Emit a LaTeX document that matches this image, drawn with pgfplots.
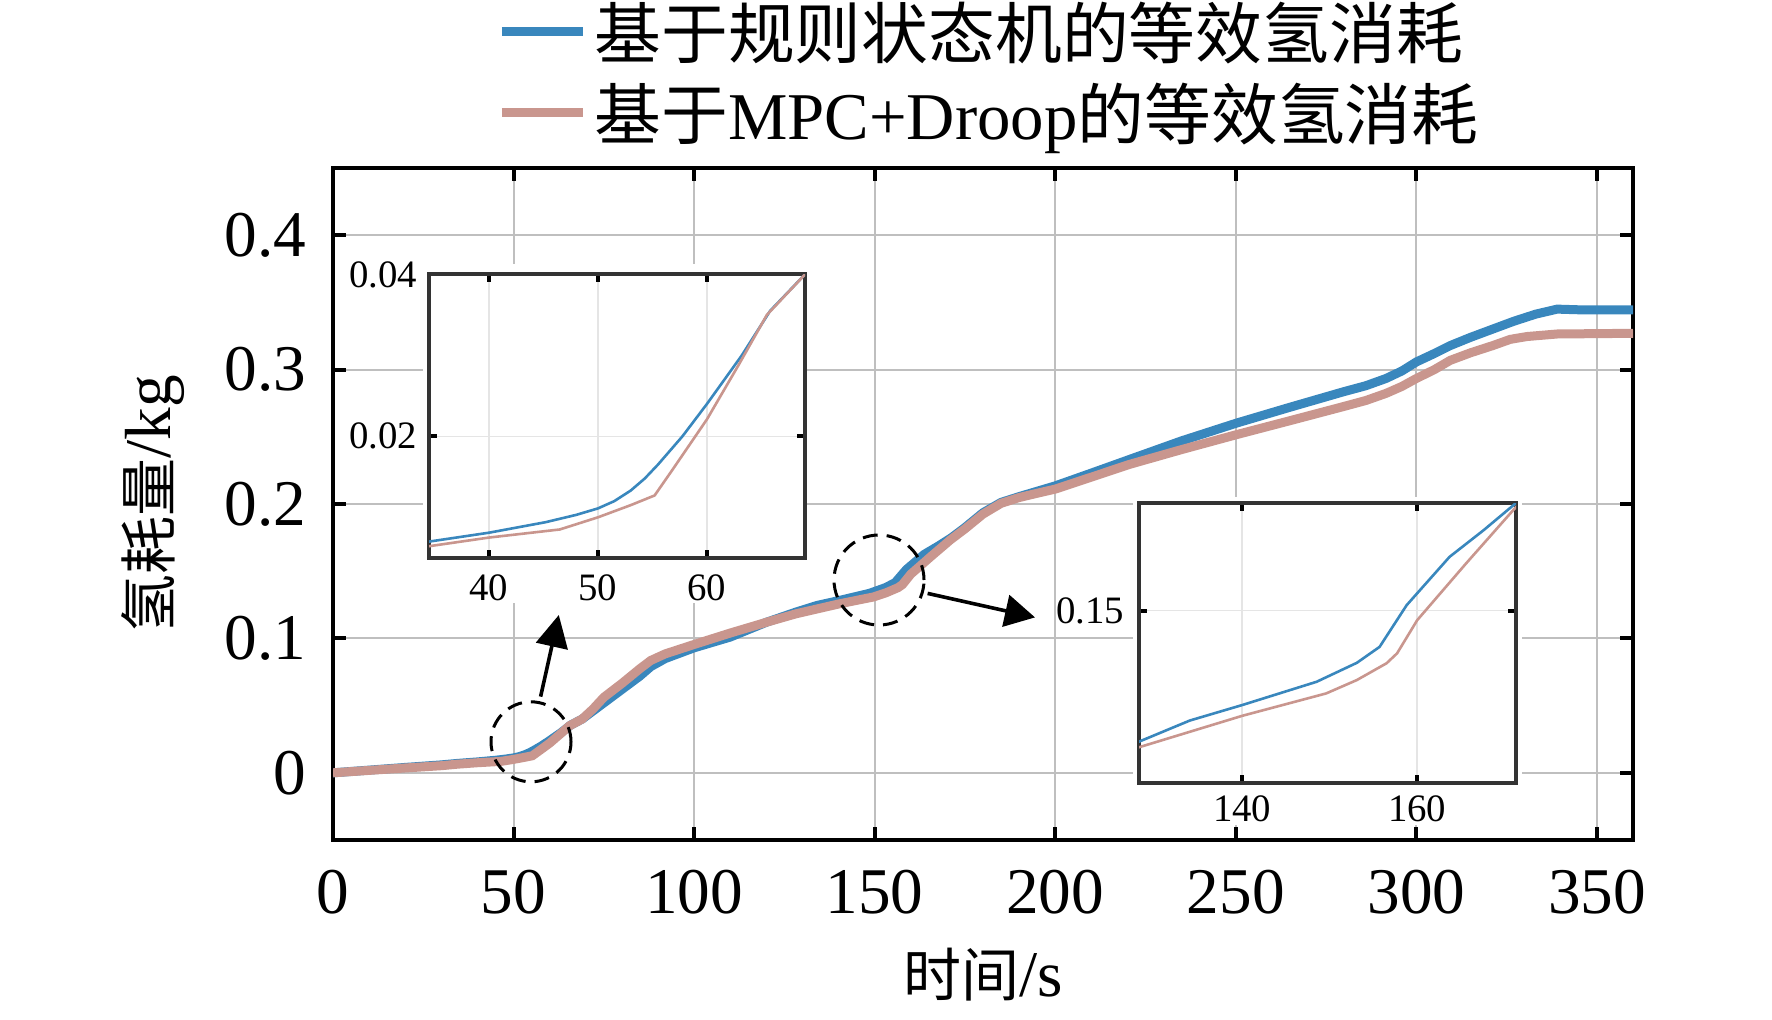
\documentclass[border=0pt]{standalone}
\usepackage{fontspec}
\setmainfont{Liberation Serif}
\newfontfamily\cjk{Noto Sans CJK SC}
\newfontfamily\cjkn{Noto Sans CJK SC}
\usepackage{pgfplots}
\usepackage{pgfplotstable}
\pgfplotsset{compat=1.18}
\usetikzlibrary{arrows.meta}
\definecolor{cblue}{RGB}{57,135,189}
\definecolor{cred}{RGB}{201,150,142}

\pgfplotstableread{
x y
0 0
10 0.0020
20 0.0040
30 0.0059
34.5 0.0070
40 0.0081
45.2 0.0094
48 0.0103
50 0.0111
51.5 0.0120
53 0.0133
54.3 0.0148
55.5 0.0165
57.75 0.0200
60 0.0240
63.2 0.0300
65.8 0.0355
69 0.0400
72 0.0460
75 0.0520
80 0.0620
85 0.0720
88 0.0790
92 0.0850
100 0.0930
110 0.1010
120 0.1120
128.2 0.1196
134 0.1245
140 0.1281
148.5 0.1335
153.1 0.1379
155.7 0.1416
158.8 0.1513
163.7 0.1625
167.6 0.1687
171.3 0.1750
175 0.1825
180 0.1935
185 0.2012
190 0.2055
195 0.2095
200 0.2135
210 0.2230
220.6 0.2332
235 0.2470
250.2 0.2602
265 0.2720
279.8 0.2835
286 0.2880
291.6 0.2934
296 0.2990
300 0.3057
305 0.3120
309.4 0.3179
315 0.3240
321.2 0.3302
327 0.3360
333.1 0.3413
339 0.3450
345 0.3445
360 0.3445
}\bluedata

\pgfplotstableread{
x y
0 0
10 0.0018
20 0.0036
30 0.0053
34.5 0.00643
40 0.0075
46.5 0.0085
50 0.0100
53 0.0115
55.2 0.0127
56.8 0.0158
60 0.0221
62.9 0.0288
65.5 0.0350
69 0.0400
72 0.0475
75 0.0562
80 0.0665
85 0.0775
88 0.0836
92 0.0885
100 0.0955
110 0.1040
120 0.1120
128.2 0.1183
140 0.1256
149.6 0.1308
153.1 0.1339
156.5 0.1378
157.7 0.1401
160 0.1478
165.6 0.1610
171 0.1734
175 0.1815
180 0.1925
185 0.2005
190 0.2048
195 0.2080
200 0.2111
210 0.2200
220.6 0.2295
235 0.2405
250.2 0.2516
265 0.2620
279.8 0.2725
286 0.2770
291.6 0.2823
296 0.2875
300 0.2934
305 0.3000
309.4 0.3069
315 0.3125
321.2 0.3179
326 0.3225
330.6 0.3246
339 0.3265
360 0.3270
}\reddata

\begin{document}
\begin{tikzpicture}
\useasboundingbox (0,0) rectangle (443pt,254.75pt);
\begin{axis}[
  at={(83.25pt,44.75pt)}, anchor=south west, scale only axis,
  width=325pt, height=168pt,
  xmin=0, xmax=360, ymin=-0.05, ymax=0.45,
  xtick={0,50,100,150,200,250,300,350},
  ytick={0,0.1,0.2,0.3,0.4},
  grid=major, major grid style={draw=black!25, line width=0.5pt},
  axis line style={line width=1.1pt},
  tick align=inside, major tick length=3.25pt,
  every tick/.style={black, line width=1pt},
  /pgf/number format/assume math mode=true,
  tick label style={font=\fontsize{16.3}{19}\selectfont, inner sep=0pt},
  xticklabel style={yshift=-7.3pt},
  yticklabel style={xshift=-6.5pt},
  xlabel={{\cjkn\fontsize{14.5}{17}\selectfont 时间}/s},
  ylabel={{\cjkn\fontsize{14.5}{17}\selectfont 氢耗量}/kg},
  label style={font=\fontsize{16.3}{19}\selectfont},
  xlabel style={at={(axis description cs:0.5,-0.2)}, anchor=center},
  ylabel style={at={(axis description cs:-0.1384,0.5)}, anchor=center},
  legend cell align=left,
  legend image code/.code={\draw[#1, line width=2.25pt] (0pt,1.75pt) -- (20.25pt,1.75pt);},
  legend style={at={(axis description cs:0.1264,1.253)}, anchor=north west,
    draw=none, fill=none, inner sep=0pt, outer sep=0pt, row sep=0pt,
    font=\fontsize{16.7}{20}\selectfont,
    nodes={text height=14pt, text depth=3.9pt, inner sep=1.2pt},
    /tikz/every odd column/.append style={column sep=0.6pt}},
]
\addplot[cblue, line width=2.25pt] table[x=x,y=y] {\bluedata};
\addlegendentry{{\cjk 基于规则状态机的等效氢消耗}}
\addplot[cred, line width=2.25pt] table[x=x,y=y] {\reddata};
\addlegendentry{{\cjk 基于}MPC+Droop{\cjk 的等效氢消耗}}
\end{axis}

\fill[white] (105.75pt,104pt) rectangle (200pt,188.75pt);
\fill[white] (283.25pt,48.5pt) rectangle (380.5pt,130.5pt);

\begin{axis}[
  at={(107.25pt,115.3pt)}, anchor=south west, scale only axis,
  width=94pt, height=70.85pt,
  xmin=34.5, xmax=69, ymin=0.005, ymax=0.04,
  xtick={40,50,60}, ytick={0.02,0.04}, yticklabels={0.02,0.04},
  scaled y ticks=false,
  grid=major, major grid style={draw=black!10, line width=0.4pt},
  axis line style={draw=black!80, line width=1pt},
  tick align=inside, major tick length=2pt,
  every tick/.style={black, line width=1pt},
  /pgf/number format/assume math mode=true,
  tick label style={font=\fontsize{9.7}{11}\selectfont, inner sep=0pt},
  xticklabel style={yshift=-4pt},
  yticklabel style={xshift=-2.75pt},
  axis background/.style={fill=white},
]
\addplot[cblue, line width=0.65pt] table[x=x,y=y] {\bluedata};
\addplot[cred, line width=0.65pt] table[x=x,y=y] {\reddata};
\end{axis}

\begin{axis}[
  at={(284.75pt,59pt)}, anchor=south west, scale only axis,
  width=94.25pt, height=70pt,
  xmin=128.2, xmax=171.3, ymin=0.11, ymax=0.175,
  xtick={140,160}, ytick={0.15}, yticklabels={0.15},
  scaled y ticks=false,
  grid=major, major grid style={draw=black!10, line width=0.4pt},
  axis line style={draw=black!80, line width=1pt},
  tick align=inside, major tick length=2pt,
  every tick/.style={black, line width=1pt},
  /pgf/number format/assume math mode=true,
  tick label style={font=\fontsize{9.7}{11}\selectfont, inner sep=0pt},
  xticklabel style={yshift=-3pt},
  yticklabel style={xshift=-3.5pt},
  axis background/.style={fill=white},
]
\addplot[cblue, line width=0.65pt] table[x=x,y=y] {\bluedata};
\addplot[cred, line width=0.65pt] table[x=x,y=y] {\reddata};
\end{axis}

\draw[black, line width=0.75pt, dash pattern=on 3.75pt off 2.25pt] (132.75pt,69.3pt) circle[radius=10pt];
\draw[black, line width=0.75pt, dash pattern=on 3.75pt off 2.25pt] (219.75pt,109.75pt) circle[radius=11.25pt];
\draw[line width=0.9pt, -{Triangle[length=8pt,width=8pt]}] (135.15pt,80.6pt) -- (139.7pt,101pt);
\draw[line width=0.9pt, -{Triangle[length=7.5pt,width=8pt]}] (231.9pt,106.4pt) -- (258.75pt,100.4pt);
\end{tikzpicture}
\end{document}
